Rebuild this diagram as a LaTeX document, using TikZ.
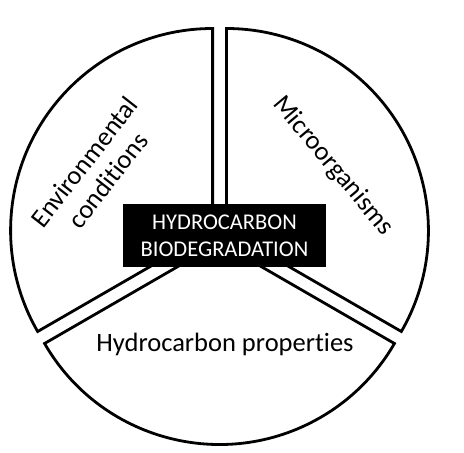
\documentclass[tikz,border=0pt]{standalone}
\usepackage{fontspec}
\setmainfont[Ligatures=NoCommon]{Carlito}
\begin{document}
\begin{tikzpicture}[x=1pt,y=1pt,
  sector/.style={draw=black,line width=2.8pt,fill=white,line join=miter},
  lbl/.style={align=center,font=\fontsize{26.5}{30}\selectfont,inner sep=0pt},
  core/.style={fill=black,text=white,minimum width=203pt,minimum height=63pt,inner sep=0pt,align=center,font=\fontsize{22.5}{27}\selectfont}]
\useasboundingbox (0,0) rectangle (464,453);
\def\R{202}
\coordinate (lc) at (212.6,222.5);
\coordinate (rc) at (226.4,222.5);
\coordinate (bc) at (219.5,210.5);
\draw[sector] (lc) -- ++(90:\R) arc[start angle=90,end angle=210,radius=\R] -- cycle;
\draw[sector] (rc) -- ++(-30:\R) arc[start angle=-30,end angle=90,radius=\R] -- cycle;
\draw[sector] (bc) -- ++(210:\R) arc[start angle=210,end angle=330,radius=\R] -- cycle;
\node[core] (hb) at (224.5,217.5) {HYDROCARBON\\BIODEGRADATION};
\node[lbl,rotate=52] (env) at (96,282) {Environmental\\conditions};
\node[lbl,rotate=-50] (mic) at (333,287) {Microorganisms};
\node[lbl,anchor=base] (hp) at (225,101) {Hydrocarbon properties};
\end{tikzpicture}
\end{document}
